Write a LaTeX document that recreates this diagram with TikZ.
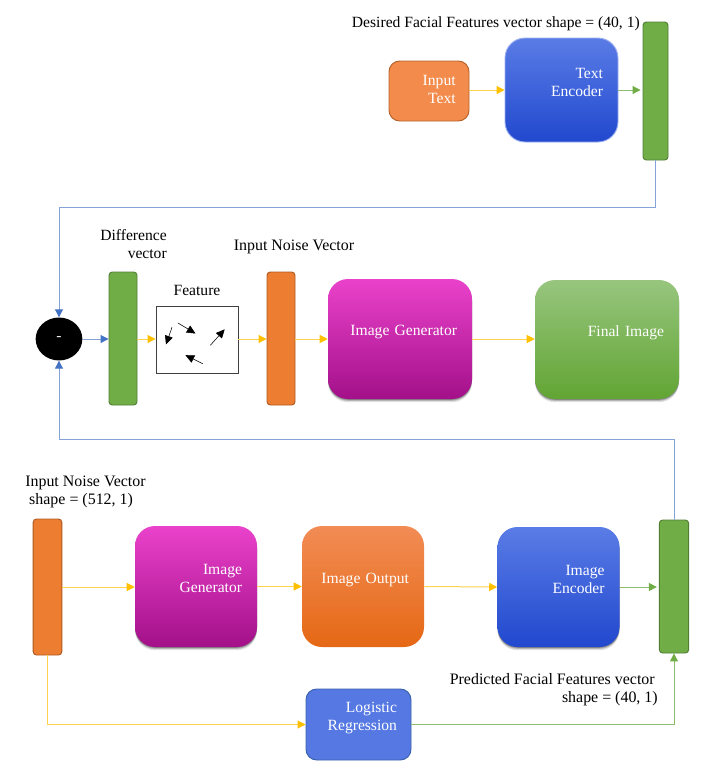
\documentclass[tikz,border=0pt]{standalone}
\usepackage{fontspec}
\setmainfont{Liberation Serif}
\usetikzlibrary{arrows.meta,shadows}

\definecolor{barGreen}{HTML}{70AD47}
\definecolor{barGreenDark}{HTML}{507E32}
\definecolor{barOrange}{HTML}{ED7D31}
\definecolor{barOrangeDark}{HTML}{AE5A21}
\definecolor{lineYellow}{HTML}{FFC000}
\definecolor{lineBlue}{HTML}{4472C4}
\definecolor{lineGreen}{HTML}{70AD47}
\definecolor{logiBlue}{HTML}{5578E3}
\definecolor{logiEdge}{HTML}{3A62A8}
\definecolor{inOrange}{HTML}{F28B4B}
\definecolor{inEdge}{HTML}{B5622A}
\definecolor{blue1}{HTML}{5A7CE6}
\definecolor{blue2}{HTML}{3F66DE}
\definecolor{blue3}{HTML}{2148CE}
\definecolor{mag1}{HTML}{EA42CB}
\definecolor{mag2}{HTML}{DB16B4}
\definecolor{mag3}{HTML}{A31089}
\definecolor{org1}{HTML}{F28C55}
\definecolor{org2}{HTML}{F67C26}
\definecolor{org3}{HTML}{E56814}
\definecolor{grn1}{HTML}{97C57E}
\definecolor{grn2}{HTML}{74B942}
\definecolor{grn3}{HTML}{62A533}

\tikzset{
  every node/.style={font=\fontsize{11.7}{13.5}\selectfont},
  bar/.style={draw=#1Dark, fill=#1, line width=0.7pt, rounded corners=2.5pt, inner sep=0pt},
  tbox/.style={rounded corners=15pt, inner ysep=0pt, inner xsep=11.25pt, align=right, text=white},
  dshadow/.style={
    general shadow={shadow yshift=-0.6pt, fill=black, opacity=0.25},
    general shadow={shadow yshift=-1.4pt, fill=black, opacity=0.2},
    general shadow={shadow yshift=-2.4pt, fill=black, opacity=0.12}},
  bluegrad/.style={tbox, top color=blue1, middle color=blue2, bottom color=blue3},
  maggrad/.style={tbox, top color=mag1, middle color=mag2, bottom color=mag3},
  orggrad/.style={tbox, top color=org1, middle color=org2, bottom color=org3},
  grngrad/.style={tbox, top color=grn1, middle color=grn2, bottom color=grn3},
  lbl/.style={inner sep=0pt, text=black},
  biglbl/.style={lbl, font=\fontsize{11.95}{13.5}\selectfont},
  yel/.style={draw=lineYellow!70, line width=0.75pt, -{Triangle[length=6pt,width=6pt,color=lineYellow]}},
  blu/.style={draw=lineBlue!65, line width=0.75pt, -{Triangle[length=6pt,width=6pt,color=lineBlue]}},
  grn/.style={draw=lineGreen!80, line width=0.75pt, -{Triangle[length=6pt,width=6pt,color=lineGreen]}},
  ftarrow/.style={draw=black, line width=0.4pt, -{Triangle[length=6.5pt,width=6pt]}}
}

\begin{document}
\begin{tikzpicture}[x=0.75pt,y=-0.75pt]
\useasboundingbox (0,0) rectangle (711,772);

\node[tbox, fill=inOrange, draw=inEdge, line width=0.7pt, rounded corners=8pt, inner xsep=10pt, text width=40pt, minimum height=45pt, text depth=16pt] (inText) at (429,91) {Input\\Text};
\node[bluegrad, draw=blue1!60!white, line width=0.7pt, text width=62.25pt, minimum height=78pt, text depth=25.5pt] (textEnc) at (561.5,90) {Text\\Encoder};
\node[bar=barGreen, minimum width=18.75pt, minimum height=103.5pt] (topBar) at (655.5,91) {};

\node[circle, fill=black, text=white, minimum width=35pt, inner sep=0pt, yscale=0.92] (diffDot) at (59,339) {\raisebox{-2pt}{-}};
\node[bar=barGreen, minimum width=21pt, minimum height=99.75pt] (diffBar) at (123,338.5) {};
\node[draw=black!75, line width=0.7pt, minimum width=61.5pt, minimum height=50.25pt, inner sep=0pt] (feature) at (197,339.5) {};
\node[bar=barOrange, minimum width=21pt, minimum height=99.75pt] (noiseBar) at (281,338.5) {};
\node[maggrad, dshadow, text width=85.5pt, minimum height=90pt, text depth=12.5pt] (imgGenA) at (400,339) {Image Generator};
\node[grngrad, dshadow, text width=85.5pt, minimum height=89.25pt, text depth=12.5pt] (finalImg) at (607,339.5) {Final Image};

\node[bar=barOrange, minimum width=21.5pt, minimum height=102pt] (inBar) at (47.5,587) {};
\node[maggrad, dshadow, text width=69pt, minimum height=90.75pt, text depth=25.5pt] (imgGenB) at (196,586.5) {Image\\Generator};
\node[orggrad, text width=69pt, minimum height=90.75pt, text depth=12.5pt] (imgOut) at (363,586.5) {Image Output};
\node[bluegrad, dshadow, text width=69pt, minimum height=90pt, text depth=25.5pt] (imgEnc) at (558.5,587) {Image\\Encoder};
\node[bar=barGreen, minimum width=22pt, minimum height=99.75pt] (outBar) at (674,586.5) {};
\node[tbox, fill=logiBlue, draw=logiEdge, line width=0.7pt, rounded corners=8pt, inner xsep=10.5pt, text width=57.75pt, minimum height=53.25pt, text depth=25.5pt] (logReg) at (358.5,724.5) {Logistic\\Regression};

\node[lbl, anchor=east] (topLbl) at (640,24) {Desired Facial Features vector shape = (40, 1)};
\node[lbl, anchor=east, align=right] (diffLbl) at (167,244) {Difference\\vector};
\node[lbl] (featLbl) at (197,290.5) {Feature};
\node[biglbl] (noiseLbl) at (294,246.5) {Input Noise Vector};
\node[biglbl, anchor=west, align=left] (inLbl) at (25,492) {Input Noise Vector\\\ shape = (512, 1)};
\node[biglbl, anchor=east, align=right] (predLbl) at (658,690) {Predicted Facial Features vector\hspace*{2.3pt}\\shape = (40, 1)};

\coordinate (turnA) at (59,207);
\coordinate (turnB) at (59,439);
\coordinate (f1) at (172,327.3);
\coordinate (f2) at (166,344.5);
\coordinate (f3) at (178,323);
\coordinate (f4) at (195.5,333.5);
\coordinate (f5) at (210.3,345.3);
\coordinate (f6) at (224.7,329.3);
\coordinate (f7) at (202.7,363.7);
\coordinate (f8) at (185.5,355.2);

\draw[yel] (inText.east |- textEnc) -- (textEnc.west);
\draw[grn, shorten >=1.5pt] (textEnc.east) -- (textEnc.east -| topBar.west);
\draw[blu] (topBar.south) |- (turnA) -- (diffDot.north);
\draw[blu] (diffDot.east) -- (diffBar.west |- diffDot);
\draw[yel] (diffBar.east |- diffDot) -- (feature.west |- diffDot);
\draw[yel] (feature.east |- diffDot) -- (noiseBar.west |- diffDot);
\draw[yel] (noiseBar.east |- diffDot) -- (imgGenA.west |- diffDot);
\draw[yel] (imgGenA.east) -- (finalImg.west |- imgGenA);
\draw[yel] (inBar.east) -- (imgGenB.west |- inBar);
\draw[yel] (imgGenB.east) -- (imgOut.west);
\draw[yel] (imgOut.east) -- (imgEnc.west);
\draw[grn, shorten >=1.5pt] (imgEnc.east) -- (outBar.west |- imgEnc);
\draw[blu] (outBar.north) |- (turnB) -- (diffDot.south);
\draw[yel] (inBar.south) |- (logReg.west);
\draw[grn] (logReg.east) -| (outBar.south);

\draw[ftarrow] (f1) -- (f2);
\draw[ftarrow] (f3) -- (f4);
\draw[ftarrow] (f5) -- (f6);
\draw[ftarrow] (f7) -- (f8);
\end{tikzpicture}
\end{document}
